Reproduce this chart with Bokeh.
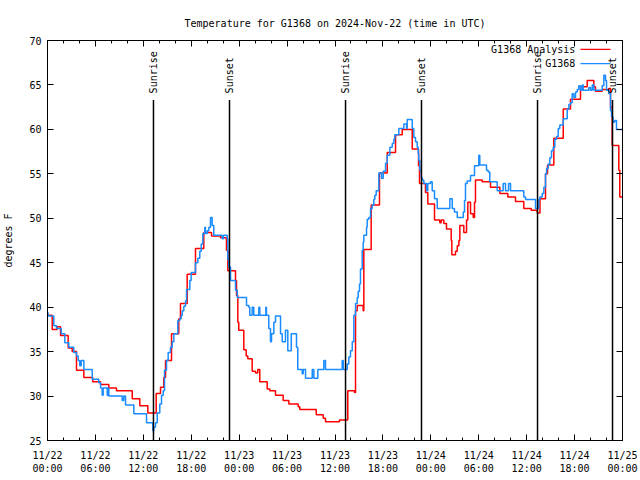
import math
from bokeh.plotting import figure
from bokeh.models import Range1d, FixedTicker, LinearAxis, Label, BoxAnnotation
from bokeh.embed import file_html
from bokeh.resources import INLINE
from bokeh.core.properties import value

FONT = "DejaVu Sans Mono"

# ---- data (hours since 2024-11-22 00:00 UTC) ----
tick_hours = [0, 6, 12, 18, 24, 30, 36, 42, 48, 54, 60, 66, 72]
tick_labels = ["11/22\n00:00", "11/22\n06:00", "11/22\n12:00", "11/22\n18:00",
               "11/23\n00:00", "11/23\n06:00", "11/23\n12:00", "11/23\n18:00",
               "11/24\n00:00", "11/24\n06:00", "11/24\n12:00", "11/24\n18:00",
               "11/25\n00:00"]
y_ticks = [25, 30, 35, 40, 45, 50, 55, 60, 65, 70]

analysis_hours = [
    0.00, 0.59, 1.21, 1.63, 2.59, 3.09, 3.63, 4.55, 5.67, 6.64,
    7.68, 8.64, 9.55, 10.61, 11.56, 12.56, 13.61, 14.15, 14.56, 14.78,
    15.53, 16.44, 16.65, 17.49, 18.53, 19.57, 20.54, 21.66, 22.41, 22.58,
    23.54, 23.67, 23.83, 23.95, 24.58, 24.88, 25.08, 25.63, 26.05, 26.33,
    26.58, 27.51, 27.84, 28.55, 29.51, 30.22, 31.39, 31.59, 33.65, 34.52,
    34.81, 36.56, 37.60, 38.44, 38.57, 38.78, 39.53, 39.61, 40.53, 41.57,
    42.54, 43.58, 44.42, 45.67, 46.46, 46.58, 47.33, 47.62, 48.46, 49.12,
    49.30, 49.63, 49.96, 50.55, 50.63, 51.09, 51.31, 51.51, 51.63, 52.13,
    52.47, 52.63, 52.97, 53.31, 53.47, 53.59, 54.43, 55.47, 56.64, 57.64,
    58.60, 59.64, 60.57, 61.32, 61.67, 62.36, 62.61, 63.40, 64.58, 65.49,
    66.74, 67.58, 68.41, 68.62, 69.46, 70.29, 70.50, 70.71, 71.54, 71.66,
    72.00]
analysis_temp = [
    39.1, 37.5, 37.8, 36.8, 35.4, 35.0, 32.9, 32.1, 31.6, 31.3,
    30.9, 30.6, 30.6, 29.7, 28.9, 28.1, 30.3, 31.0, 32.1, 34.0,
    37.0, 38.7, 40.4, 43.7, 46.6, 48.4, 48.0, 47.8, 46.4, 44.1,
    43.0, 41.3, 38.3, 37.4, 35.2, 34.5, 34.2, 32.8, 32.6, 33.0,
    31.6, 30.8, 30.6, 30.1, 29.5, 29.1, 28.8, 28.5, 27.9, 27.5,
    27.1, 27.3, 30.6, 30.4, 39.6, 40.2, 39.6, 46.5, 51.5, 55.1,
    57.4, 59.4, 60.0, 57.8, 55.9, 53.9, 52.9, 51.6, 49.8, 49.5,
    49.8, 49.4, 48.8, 47.5, 45.9, 46.3, 46.9, 47.5, 49.2, 48.4,
    49.8, 51.8, 50.5, 50.1, 51.8, 54.3, 54.1, 53.5, 52.8, 52.4,
    51.9, 51.1, 50.9, 50.6, 52.2, 55.0, 56.0, 59.0, 62.3, 63.4,
    64.8, 65.5, 64.8, 64.3, 64.5, 64.6, 62.5, 58.2, 55.4, 52.4,
    52.4]

obs_hours = [
    0.00, 0.06, 0.79, 1.13, 1.72, 2.17, 2.67, 3.29, 3.63, 3.84,
    4.04, 4.22, 4.55, 5.60, 6.42, 6.64, 6.85, 6.97, 7.48, 7.55,
    7.68, 9.35, 9.55, 9.77, 10.81, 12.40, 13.19, 13.31, 13.52, 13.74,
    14.06, 14.28, 14.49, 14.65, 14.90, 15.11, 15.40, 15.62, 15.82, 16.32,
    16.57, 16.74, 16.87, 17.07, 17.28, 17.41, 17.82, 17.99, 18.53, 18.82,
    19.07, 19.25, 19.45, 19.70, 19.78, 20.00, 20.20, 20.41, 20.62, 20.82,
    21.88, 22.04, 22.50, 22.58, 22.70, 22.92, 23.54, 23.76, 24.92, 25.21,
    25.33, 25.63, 25.83, 26.46, 26.58, 27.34, 27.42, 27.71, 27.92, 28.05,
    28.34, 28.55, 29.18, 29.39, 29.80, 30.09, 30.52, 31.18, 31.34, 31.89,
    32.02, 32.31, 33.15, 33.35, 33.85, 34.60, 34.81, 36.90, 37.03, 37.53,
    37.73, 37.94, 38.16, 38.36, 38.57, 38.78, 38.91, 39.07, 39.19, 39.41,
    39.53, 39.61, 39.95, 40.03, 40.23, 40.45, 40.66, 40.86, 40.99, 41.16,
    41.49, 41.82, 42.04, 42.33, 42.54, 42.87, 43.17, 43.37, 43.49, 43.99,
    44.62, 44.96, 45.04, 45.67, 45.87, 46.08, 46.30, 46.42, 46.49, 46.62,
    46.80, 46.92, 47.12, 47.46, 47.62, 47.96, 48.17, 48.46, 48.80, 50.38,
    50.68, 50.96, 51.31, 52.06, 52.22, 52.34, 52.55, 52.97, 53.47, 54.01,
    54.13, 54.97, 55.18, 55.38, 56.31, 57.06, 57.35, 57.73, 57.98, 59.64,
    59.86, 61.11, 61.52, 61.65, 61.95, 62.15, 62.36, 62.49, 62.70, 62.90,
    63.11, 63.32, 63.53, 63.74, 63.95, 64.15, 64.58, 65.08, 65.28, 65.49,
    65.70, 65.91, 66.12, 66.33, 66.53, 66.74, 66.95, 67.08, 67.78, 67.99,
    68.21, 68.41, 69.46, 69.66, 69.87, 70.00, 70.29, 70.50, 70.63, 70.82,
    71.02, 71.25, 72.00]
obs_temp = [
    39.4, 39.0, 37.9, 37.6, 37.0, 36.0, 35.5, 34.9, 34.5, 34.0,
    33.4, 34.0, 33.0, 31.9, 31.5, 30.9, 30.1, 30.9, 30.1, 30.9,
    30.0, 29.5, 30.0, 29.0, 28.0, 27.0, 26.1, 26.5, 27.0, 28.1,
    29.1, 30.1, 30.6, 32.9, 34.0, 34.9, 35.5, 36.1, 37.0, 38.5,
    38.7, 39.1, 39.6, 40.1, 40.7, 42.0, 43.0, 43.9, 45.0, 45.5,
    46.3, 47.1, 48.3, 49.0, 48.3, 48.6, 49.0, 50.1, 49.2, 48.1,
    47.7, 48.1, 47.7, 45.4, 44.5, 43.0, 41.9, 41.1, 40.2, 40.0,
    39.1, 40.0, 39.1, 40.0, 39.1, 40.0, 39.1, 37.6, 36.1, 37.0,
    38.3, 39.0, 37.0, 36.1, 37.4, 35.1, 37.0, 35.5, 33.0, 32.5,
    33.0, 32.0, 33.0, 32.0, 33.0, 34.0, 33.0, 34.0, 33.0, 33.6,
    34.4, 35.1, 36.1, 39.1, 40.4, 41.1, 41.8, 42.6, 44.3, 46.4,
    47.3, 48.1, 49.0, 49.9, 50.1, 51.1, 51.5, 52.1, 52.6, 53.1,
    55.1, 54.5, 55.3, 56.2, 57.1, 58.0, 58.4, 58.9, 59.4, 60.1,
    60.6, 60.1, 61.1, 60.1, 59.1, 58.6, 58.0, 57.3, 56.5, 55.4,
    54.6, 54.3, 53.9, 53.1, 53.9, 54.1, 53.1, 52.2, 51.1, 52.2,
    51.1, 50.7, 50.1, 50.7, 52.0, 53.9, 54.2, 54.8, 55.9, 57.1,
    56.0, 55.4, 55.2, 54.1, 53.1, 53.9, 53.1, 53.9, 53.1, 52.4,
    52.1, 51.1, 52.1, 52.4, 52.8, 53.5, 55.0, 55.6, 56.1, 56.8,
    57.6, 58.0, 58.9, 59.2, 60.1, 60.5, 61.2, 62.3, 62.8, 63.0,
    64.0, 63.6, 64.2, 64.5, 64.9, 64.4, 65.0, 64.4, 64.7, 64.4,
    65.0, 64.4, 64.9, 66.1, 65.5, 64.4, 64.0, 62.1, 61.4, 60.8,
    61.0, 60.0, 60.0]

sunrise_hours = [13.27, 37.32, 61.36]
sunset_hours = [22.79, 46.83, 70.75]

series_names = ["G1368 Analysis", "G1368"]
series_colors = ["#FF0000", "#1A8CFF"]

# ---- figure ----
p = figure(width=640, height=480, x_range=Range1d(0, 72), y_range=Range1d(25, 70),
           output_backend="svg", toolbar_location=None,
           min_border_left=47, min_border_right=18, min_border_top=40, min_border_bottom=40)
p.background_fill_color = "white"
p.border_fill_color = "white"
p.outline_line_color = "black"
p.outline_line_width = 1
p.xgrid.visible = False
p.ygrid.visible = False

p.title.text = "Temperature for G1368 on 2024-Nov-22 (time in UTC)"
p.title.align = "center"
p.title.text_font = FONT
p.title.text_font_size = "10px"
p.title.text_font_style = "normal"
p.title.text_color = "black"
p.title.standoff = 23

xticker = FixedTicker(ticks=tick_hours, minor_ticks=list(range(0, 73, 2)))
yticker = FixedTicker(ticks=y_ticks, minor_ticks=[])


def style_axis(ax, labels=True, standoff=6):
    ax.axis_line_color = "black"
    ax.major_tick_line_color = "black"
    ax.minor_tick_line_color = "black"
    ax.major_tick_in = 6
    ax.major_tick_out = 0
    ax.minor_tick_in = 3
    ax.minor_tick_out = 0
    ax.major_label_text_font = FONT
    if labels:
        ax.major_label_text_font_size = "10px"
        ax.major_label_text_color = "black"
        ax.major_label_standoff = standoff
    else:
        ax.major_label_text_font_size = "0px"
        ax.major_label_text_color = None
        ax.major_label_standoff = 0


xa = p.xaxis[0]
xa.ticker = xticker
style_axis(xa, standoff=9)
xa.major_label_overrides = {h: lab for h, lab in zip(tick_hours, tick_labels)}

ya = p.yaxis[0]
ya.ticker = yticker
style_axis(ya, standoff=6)
ya.axis_label = "degrees F"
ya.axis_label_text_font = FONT
ya.axis_label_text_font_size = "10px"
ya.axis_label_text_font_style = "normal"
ya.axis_label_text_color = "black"
ya.axis_label_standoff = 12

top = LinearAxis(ticker=xticker)
style_axis(top, labels=False)
p.add_layout(top, "above")
right = LinearAxis(ticker=yticker)
style_axis(right, labels=False)
p.add_layout(right, "right")

# ---- data lines ----
p.step(analysis_hours, analysis_temp, mode="after", line_color=series_colors[0], line_width=1.5)
p.step(obs_hours, obs_temp, mode="after", line_color=series_colors[1], line_width=1.5)

# ---- sunrise / sunset markers ----
LINE_TOP = 63.3
TEXT_BASE = 64.05
for hrs, name in ((sunrise_hours, "Sunrise"), (sunset_hours, "Sunset")):
    p.segment(x0=hrs, y0=[25] * len(hrs), x1=hrs, y1=[LINE_TOP] * len(hrs),
              line_color="black", line_width=1.5)
    p.text(x=hrs, y=[TEXT_BASE] * len(hrs), text=[name] * len(hrs), angle=math.pi / 2,
           text_align="left", text_baseline="middle", text_font=value(FONT),
           text_font_size="10px", text_color="black")

# ---- legend (text right, sample line on the right) ----
leg_rows_y = [69.0, 67.4]
for yv, nm, col in zip(leg_rows_y, series_names, series_colors):
    p.add_layout(Label(x=66.1, y=yv, text=nm, text_align="right", text_baseline="middle",
                       text_font=FONT, text_font_size="10px", text_color="black"))
    p.add_layout(BoxAnnotation(left=66.74, right=70.5, bottom=yv - 0.08, top=yv + 0.08,
                               fill_color=col, fill_alpha=1.0, line_color=None))

open("out.html", "w").write(file_html(p, INLINE))
